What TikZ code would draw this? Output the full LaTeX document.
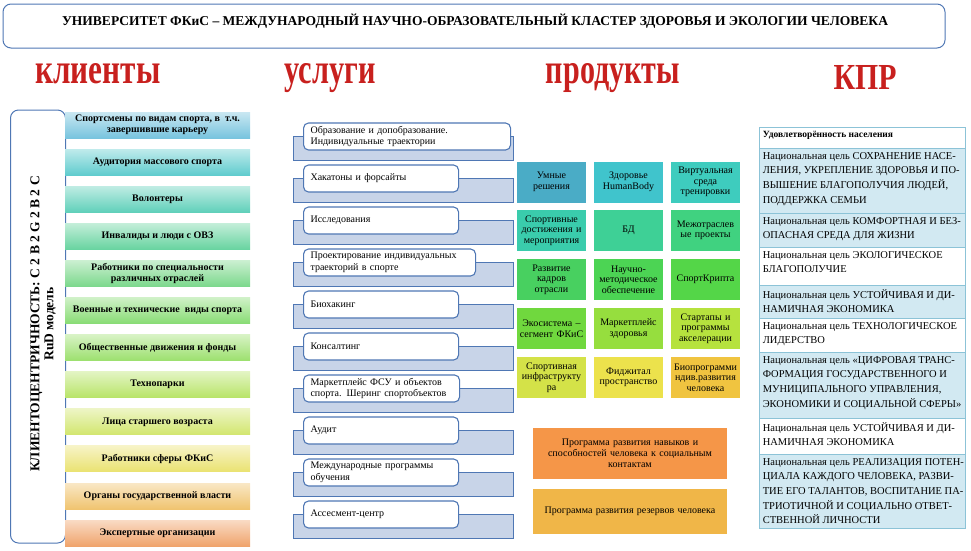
\documentclass[tikz,border=0pt]{standalone}
\usepackage{fontspec}
\setmainfont{Liberation Serif}
\usetikzlibrary{positioning,backgrounds}

\definecolor{frameblue}{RGB}{79,119,180}
\definecolor{svfill}{RGB}{200,212,232}
\definecolor{kprblue}{RGB}{210,233,242}
\definecolor{kprline}{RGB}{140,195,215}
\definecolor{headred}{RGB}{200,32,30}

\definecolor{cla}{RGB}{120,196,222}
\definecolor{clb}{RGB}{96,204,206}
\definecolor{clc}{RGB}{96,208,186}
\definecolor{cld}{RGB}{104,212,160}
\definecolor{cle}{RGB}{124,216,140}
\definecolor{clf}{RGB}{136,220,116}
\definecolor{clg}{RGB}{156,224,110}
\definecolor{clh}{RGB}{184,228,104}
\definecolor{cli}{RGB}{210,230,110}
\definecolor{clj}{RGB}{234,226,112}
\definecolor{clk}{RGB}{240,196,112}
\definecolor{cll}{RGB}{240,164,108}

\definecolor{paa}{RGB}{74,172,198}
\definecolor{pab}{RGB}{64,196,204}
\definecolor{pac}{RGB}{62,204,190}
\definecolor{pba}{RGB}{58,204,172}
\definecolor{pbb}{RGB}{62,208,150}
\definecolor{pbc}{RGB}{64,210,128}
\definecolor{pca}{RGB}{72,208,96}
\definecolor{pcb}{RGB}{76,212,84}
\definecolor{pcc}{RGB}{84,214,72}
\definecolor{pda}{RGB}{112,216,62}
\definecolor{pdb}{RGB}{150,222,62}
\definecolor{pdc}{RGB}{182,226,62}
\definecolor{pea}{RGB}{212,226,72}
\definecolor{peb}{RGB}{236,226,76}
\definecolor{pec}{RGB}{240,196,64}
\definecolor{progA}{RGB}{245,150,72}
\definecolor{progB}{RGB}{240,182,72}

\begin{document}
\begin{tikzpicture}[x=1pt,y=-1pt,
    heading/.style={text=headred,anchor=base,inner sep=0pt,font=\bfseries},
    client/.style={top color=#1!40!white,bottom color=#1,minimum width=185pt,minimum height=26pt,inner sep=1pt,align=center,font=\fontsize{10}{11}\selectfont\bfseries},
    servicebg/.style={draw=frameblue,fill=svfill,line width=0.9pt,minimum width=220pt,minimum height=24pt},
    service/.style={draw=frameblue,fill=white,line width=1.1pt,rounded corners=5pt,anchor=west,minimum height=27pt,inner xsep=7pt,inner ysep=1pt,text width=#1,align=left,font=\fontsize{10}{11.5}\selectfont},
    product/.style={fill=#1,minimum width=69pt,minimum height=41pt,text width=68pt,inner sep=0.5pt,align=center,font=\fontsize{10}{10.5}\selectfont},
    program/.style={fill=#1,minimum width=194pt,text width=186pt,align=center,font=\fontsize{10}{11}\selectfont},
    kprrow/.style={draw=kprline,fill=#1,line width=0.8pt,minimum width=206pt,anchor=north,inner sep=0pt},
    kprtext/.style={inner sep=0pt,align=left,font=\fontsize{10.5}{14.7}\selectfont}]
\useasboundingbox (0,0) rectangle (971,550);

% title
\node[draw=frameblue,line width=1pt,rounded corners=8pt,minimum width=942pt,minimum height=44pt] (tbox) at (474,26) {};
\node[anchor=base,inner sep=0pt] (title) at (475,25) {\resizebox{826pt}{!}{\bfseries УНИВЕРСИТЕТ ФКиС – МЕЖДУНАРОДНЫЙ НАУЧНО-ОБРАЗОВАТЕЛЬНЫЙ КЛАСТЕР ЗДОРОВЬЯ И ЭКОЛОГИИ ЧЕЛОВЕКА}};

% headings
\node[heading] (hclients) at (98,83) {\resizebox{125pt}{20pt}{клиенты}};
\node[heading] (hservices) at (330,83) {\resizebox{91pt}{20pt}{услуги}};
\node[heading] (hproducts) at (613,83) {\resizebox{134pt}{20pt}{продукты}};
\node[heading] (hkpr) at (865,89) {\resizebox{63pt}{24pt}{КПР}};

% clients
\node[draw=frameblue,line width=1pt,rounded corners=8pt,fill=white,minimum width=55pt,minimum height=433pt] (cbox) at (38,326.5) {};
\node[rotate=90,align=center,inner sep=0pt,font=\fontsize{13.5}{14}\selectfont\bfseries] (ctext) at (43,324) {КЛИЕНТОЦЕНТРИЧНОСТЬ: C 2 B 2 G 2 B 2 C\\RuD модель};

\node[client=cla] (c1) at (157.5,125.0) {Спортсмены по видам спорта, в~~т.ч.\\завершившие карьеру};
\node[client=clb] (c2) at (157.5,162.1) {Аудитория массового спорта};
\node[client=clc] (c3) at (157.5,199.2) {Волонтеры};
\node[client=cld] (c4) at (157.5,236.3) {Инвалиды и люди с ОВЗ};
\node[client=cle] (c5) at (157.5,273.4) {Работники по специальности\\различных отраслей};
\node[client=clf] (c6) at (157.5,310.5) {Военные и технические~~виды спорта};
\node[client=clg] (c7) at (157.5,347.6) {Общественные движения и фонды};
\node[client=clh] (c8) at (157.5,384.7) {Технопарки};
\node[client=cli] (c9) at (157.5,421.8) {Лица старшего возраста};
\node[client=clj] (c10) at (157.5,458.9) {Работники сферы ФКиС};
\node[client=clk] (c11) at (157.5,496.0) {Органы государственной власти};
\node[client=cll] (c12) at (157.5,533.1) {Экспертные организации};

% services
\node[servicebg] (sb1) at (403,148) {};
\node[servicebg] (sb2) at (403,190) {};
\node[servicebg] (sb3) at (403,232) {};
\node[servicebg] (sb4) at (403,274) {};
\node[servicebg] (sb5) at (403,316) {};
\node[servicebg] (sb6) at (403,358) {};
\node[servicebg] (sb7) at (403,400) {};
\node[servicebg] (sb8) at (403,442) {};
\node[servicebg] (sb9) at (403,484) {};
\node[servicebg] (sb10) at (403,526) {};

\node[service=193pt] (s1) at (303,136.5) {Образование и допобразование.\\Индивидуальные траектории};
\node[service=141pt] (s2) at (303,178.5) {Хакатоны и форсайты};
\node[service=141pt] (s3) at (303,220.5) {Исследования};
\node[service=158pt] (s4) at (303,262.5) {Проектирование индивидуальных\\траекторий в спорте};
\node[service=141pt] (s5) at (303,304.5) {Биохакинг};
\node[service=141pt] (s6) at (303,346.5) {Консалтинг};
\node[service=142pt] (s7) at (303,388.5) {Маркетплейс ФСУ и объектов\\спорта. Шеринг спортобъектов};
\node[service=141pt] (s8) at (303,430.5) {Аудит};
\node[service=141pt] (s9) at (303,472.5) {Международные программы\\обучения};
\node[service=141pt] (s10) at (303,514.5) {Ассесмент-центр};

% products
\node[product=paa] (p11) at (551.5,182) {Умные\\решения};
\node[product=pab] (p12) at (628.5,182) {Здоровье\\HumanBody};
\node[product=pac] (p13) at (705.5,182) {Виртуальная\\среда\\тренировки};
\node[product=pba] (p21) at (551.5,230.5) {Спортивные\\достижения и\\мероприятия};
\node[product=pbb] (p22) at (628.5,230.5) {БД};
\node[product=pbc] (p23) at (705.5,230.5) {Межотраслев\\ые проекты};
\node[product=pca] (p31) at (551.5,279.5) {Развитие\\кадров\\отрасли};
\node[product=pcb] (p32) at (628.5,279.5) {Научно-\\методическое\\обеспечение};
\node[product=pcc] (p33) at (705.5,279.5) {СпортКрипта};
\node[product=pda] (p41) at (551.5,328.5) {Экосистема –\\сегмент ФКиС};
\node[product=pdb] (p42) at (628.5,328.5) {Маркетплейс\\здоровья};
\node[product=pdc] (p43) at (705.5,328.5) {Стартапы и\\программы\\акселерации};
\node[product=pea] (p51) at (551.5,377.5) {Спортивная\\инфраструкту\\ра};
\node[product=peb] (p52) at (628.5,377.5) {Фиджитал\\пространство};
\node[product=pec] (p53) at (705.5,377.5) {Биопрограмми\\ндив.развития\\человека};

\node[program=progA,minimum height=51pt] (prA) at (630,453.5) {Программа развития навыков и\\способностей человека к социальным\\контактам};
\node[program=progB,minimum height=45pt] (prB) at (630,511.5) {Программа развития резервов человека};

% KPR table
\node[kprrow=white,minimum height=21pt] (k0) at (862,127) {};
\node[kprrow=kprblue,minimum height=65pt] (k1) at (862,148) {};
\node[kprrow=kprblue,minimum height=34pt] (k2) at (862,213) {};
\node[kprrow=white,minimum height=38pt] (k3) at (862,247) {};
\node[kprrow=kprblue,minimum height=33pt] (k4) at (862,285) {};
\node[kprrow=white,minimum height=34pt] (k5) at (862,318) {};
\node[kprrow=kprblue,minimum height=66pt] (k6) at (862,352) {};
\node[kprrow=white,minimum height=36pt] (k7) at (862,418) {};
\node[kprrow=kprblue,minimum height=74pt] (k8) at (862,454) {};

\node[kprtext,font=\fontsize{9.5}{12}\selectfont\bfseries,below right=4pt and 4pt of k0.north west] (t0) {Удовлетворённость населения};
\node[kprtext,below right=4pt and 4pt of k1.north west] (t1) {Национальная цель СОХРАНЕНИЕ НАСЕ-\\ЛЕНИЯ, УКРЕПЛЕНИЕ ЗДОРОВЬЯ И ПО-\\ВЫШЕНИЕ БЛАГОПОЛУЧИЯ ЛЮДЕЙ,\\ПОДДЕРЖКА СЕМЬИ};
\node[kprtext,below right=4pt and 4pt of k2.north west] (t2) {Национальная цель КОМФОРТНАЯ И БЕЗ-\\ОПАСНАЯ СРЕДА ДЛЯ ЖИЗНИ};
\node[kprtext,below right=4pt and 4pt of k3.north west] (t3) {Национальная цель ЭКОЛОГИЧЕСКОЕ\\БЛАГОПОЛУЧИЕ};
\node[kprtext,below right=4pt and 4pt of k4.north west] (t4) {Национальная цель УСТОЙЧИВАЯ И ДИ-\\НАМИЧНАЯ ЭКОНОМИКА};
\node[kprtext,below right=4pt and 4pt of k5.north west] (t5) {Национальная цель ТЕХНОЛОГИЧЕСКОЕ\\ЛИДЕРСТВО};
\node[kprtext,below right=4pt and 4pt of k6.north west] (t6) {Национальная цель «ЦИФРОВАЯ ТРАНС-\\ФОРМАЦИЯ ГОСУДАРСТВЕННОГО И\\МУНИЦИПАЛЬНОГО УПРАВЛЕНИЯ,\\ЭКОНОМИКИ И СОЦИАЛЬНОЙ СФЕРЫ»};
\node[kprtext,below right=4pt and 4pt of k7.north west] (t7) {Национальная цель УСТОЙЧИВАЯ И ДИ-\\НАМИЧНАЯ ЭКОНОМИКА};
\node[kprtext,below right=4pt and 4pt of k8.north west] (t8) {Национальная цель РЕАЛИЗАЦИЯ ПОТЕН-\\ЦИАЛА КАЖДОГО ЧЕЛОВЕКА, РАЗВИ-\\ТИЕ ЕГО ТАЛАНТОВ, ВОСПИТАНИЕ ПА-\\ТРИОТИЧНОЙ И СОЦИАЛЬНО ОТВЕТ-\\СТВЕННОЙ ЛИЧНОСТИ};
\end{tikzpicture}
\end{document}
